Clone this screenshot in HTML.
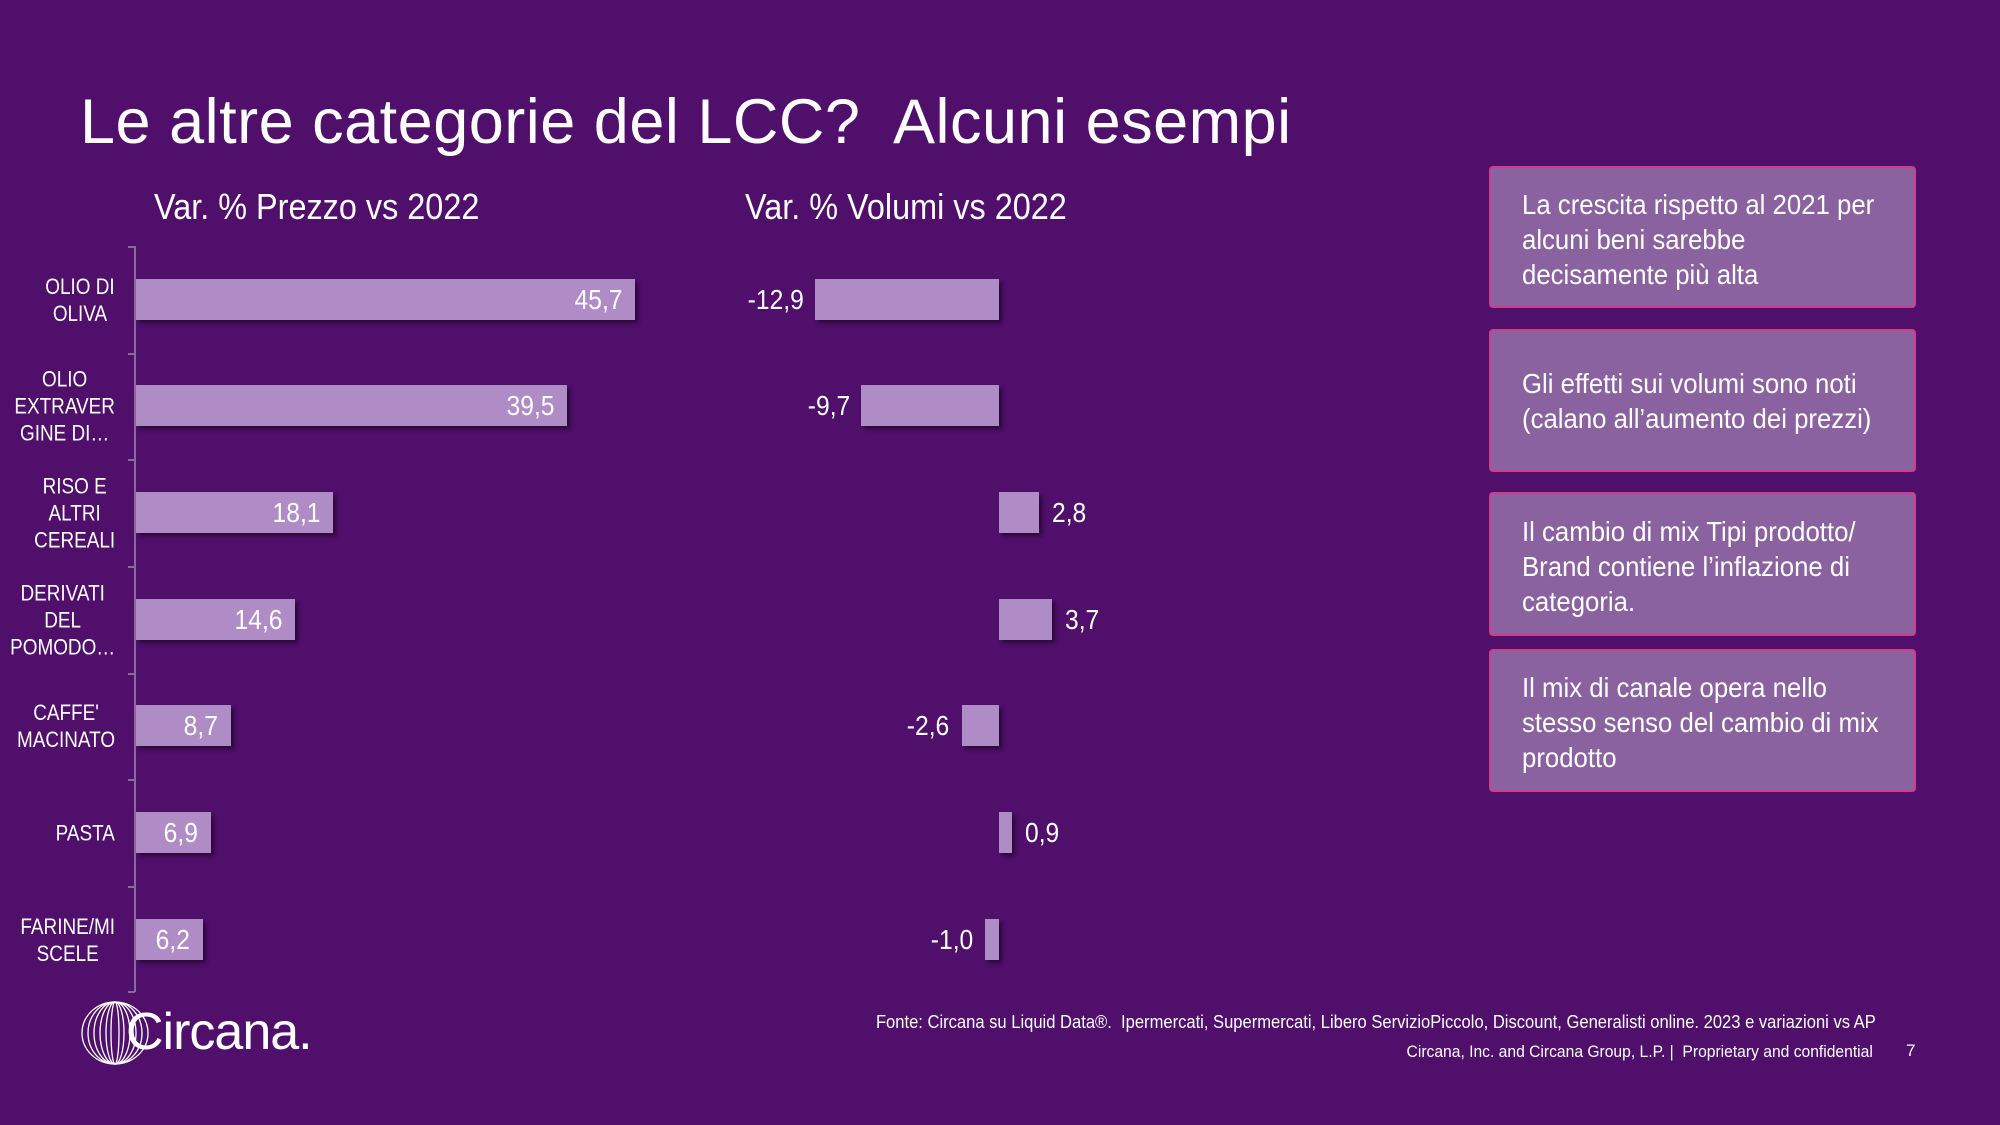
<!DOCTYPE html>
<html><head><meta charset="utf-8"><style>
body{margin:0;width:2000px;height:1125px;background:#4f0f6b;position:relative;overflow:hidden;font-family:"Liberation Sans",sans-serif;color:#fff}
.a{position:absolute;white-space:nowrap}
.title{font-size:63px;left:80px;top:86px;letter-spacing:0.5px}
.sub{font-size:36px;top:186px;transform:scaleX(.9);transform-origin:left}
.cat{position:absolute;right:1885px;text-align:center;font-size:22px;line-height:27px;transform:translateY(-50%) scaleX(.86);transform-origin:right center;white-space:nowrap}
.bar{position:absolute;height:41px;background:#b08cc6;box-shadow:3px 3px 4px rgba(0,0,0,.45)}
.v{position:absolute;font-size:28px;transform:translateY(-50%) scaleX(.88);transform-origin:right center}
.vl{transform-origin:left center}
.box{position:absolute;left:1489px;width:427px;background:#8a62a0;border:2px solid #d13d8c;border-radius:4px;box-sizing:border-box;padding:0 0 0 31px;font-size:28px;line-height:35px;white-space:nowrap}
.box div{transform:scaleX(.92);transform-origin:left}
.tick{position:absolute;left:128px;width:7px;height:2px;background:#8a6a9a}
</style></head><body>
<div class="a title">Le altre categorie del LCC?&nbsp; Alcuni esempi</div>
<div class="a sub" style="left:154px">Var. % Prezzo vs 2022</div>
<div class="a sub" style="left:745px">Var. % Volumi vs 2022</div>
<div style="position:absolute;left:134px;top:246px;width:2px;height:746px;background:#8a6a9a"></div>
<div class="tick" style="top:246px"></div><div class="tick" style="top:353px"></div><div class="tick" style="top:459px"></div><div class="tick" style="top:566px"></div><div class="tick" style="top:673px"></div><div class="tick" style="top:779px"></div><div class="tick" style="top:886px"></div><div class="tick" style="top:991px"></div>

<div class="cat" style="top:300px">OLIO DI<br>OLIVA</div>
<div class="cat" style="top:406px">OLIO<br>EXTRAVER<br>GINE DI…</div>
<div class="cat" style="top:513px">RISO E<br>ALTRI<br>CEREALI</div>
<div class="cat" style="top:620px">DERIVATI<br>DEL<br>POMODO…</div>
<div class="cat" style="top:726px">CAFFE'<br>MACINATO</div>
<div class="cat" style="top:833px">PASTA</div>
<div class="cat" style="top:940px">FARINE/MI<br>SCELE</div>

<div class="bar" style="left:136px;top:279px;width:499px"></div><div class="v" style="right:1378px;top:300px">45,7</div>
<div class="bar" style="left:136px;top:385px;width:431px"></div><div class="v" style="right:1446px;top:406px">39,5</div>
<div class="bar" style="left:136px;top:492px;width:197px"></div><div class="v" style="right:1680px;top:513px">18,1</div>
<div class="bar" style="left:136px;top:599px;width:159px"></div><div class="v" style="right:1718px;top:620px">14,6</div>
<div class="bar" style="left:136px;top:705px;width:95px"></div><div class="v" style="right:1782px;top:726px">8,7</div>
<div class="bar" style="left:136px;top:812px;width:75px"></div><div class="v" style="right:1802px;top:833px">6,9</div>
<div class="bar" style="left:136px;top:919px;width:67px"></div><div class="v" style="right:1810px;top:940px">6,2</div>

<div class="bar" style="left:815px;top:279px;width:184px"></div><div class="v" style="right:1196px;top:300px">-12,9</div>
<div class="bar" style="left:861px;top:385px;width:138px"></div><div class="v" style="right:1150px;top:406px">-9,7</div>
<div class="bar" style="left:999px;top:492px;width:40px"></div><div class="v vl" style="left:1052px;top:513px">2,8</div>
<div class="bar" style="left:999px;top:599px;width:53px"></div><div class="v vl" style="left:1065px;top:620px">3,7</div>
<div class="bar" style="left:962px;top:705px;width:37px"></div><div class="v" style="right:1051px;top:726px">-2,6</div>
<div class="bar" style="left:999px;top:812px;width:13px"></div><div class="v vl" style="left:1025px;top:833px">0,9</div>
<div class="bar" style="left:985px;top:919px;width:14px"></div><div class="v" style="right:1027px;top:940px">-1,0</div>

<div class="box" style="top:166px;height:142px;padding-top:19px"><div>La crescita rispetto al 2021 per<br>alcuni beni sarebbe<br>decisamente più alta</div></div>
<div class="box" style="top:329px;height:143px;padding-top:35px"><div>Gli effetti sui volumi sono noti<br>(calano all’aumento dei prezzi)</div></div>
<div class="box" style="top:492px;height:144px;padding-top:20px"><div>Il cambio di mix Tipi prodotto/<br>Brand contiene l’inflazione di<br>categoria.</div></div>
<div class="box" style="top:649px;height:143px;padding-top:19px"><div>Il mix di canale opera nello<br>stesso senso del cambio di mix<br>prodotto</div></div>

<svg class="a" style="left:80px;top:1000px" width="70" height="66" viewBox="0 0 70 66" fill="none" stroke="#fff" stroke-width="1.3">
<ellipse cx="35" cy="33" rx="33" ry="31"/><ellipse cx="35" cy="33" rx="27" ry="31"/><ellipse cx="35" cy="33" rx="21" ry="31"/><ellipse cx="35" cy="33" rx="15" ry="31"/><ellipse cx="35" cy="33" rx="9" ry="31"/><ellipse cx="35" cy="33" rx="4" ry="31"/>
</svg>
<div class="a" style="left:126px;top:1002px;font-size:52px;letter-spacing:-1px">Circana.</div>

<div class="a" style="right:124px;top:1012px;font-size:18px;transform:scaleX(.92);transform-origin:right">Fonte: Circana su Liquid Data®.&nbsp; Ipermercati, Supermercati, Libero ServizioPiccolo, Discount, Generalisti online. 2023 e variazioni vs AP</div>
<div class="a" style="right:127px;top:1042px;font-size:17px;transform:scaleX(.92);transform-origin:right">Circana, Inc. and Circana Group, L.P. |&nbsp; Proprietary and confidential</div>
<div class="a" style="left:1906px;top:1041px;font-size:17px">7</div>
</body></html>
